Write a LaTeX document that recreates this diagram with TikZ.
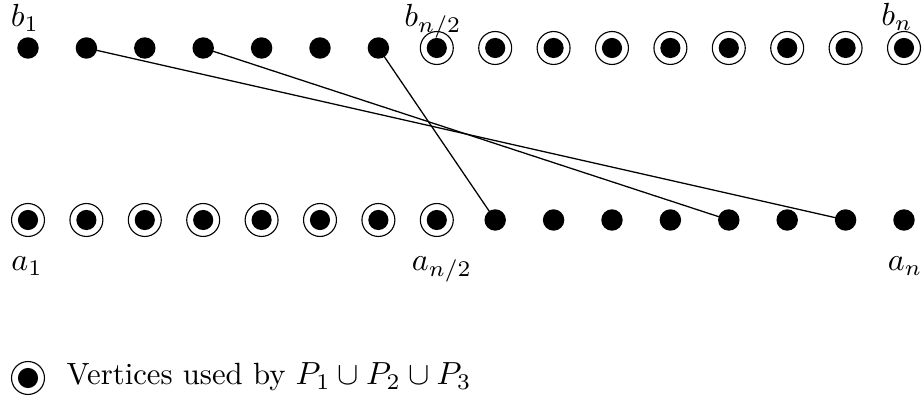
\documentclass[tikz,border=0pt]{standalone}
\usepackage{amssymb}
\begin{document}
\begin{tikzpicture}[x=0.3125pt,y=-0.3125pt,
  dotv/.style={circle,fill=black,inner sep=0pt,minimum size=6.7pt},
  usedv/.style={circle,draw=black,line width=0.35pt,inner sep=0pt,minimum size=10.3pt,
    path picture={\fill[black] (path picture bounding box.center) circle[radius=3.15pt];}},
  edge/.style={draw=black,line width=0.4pt},
  lab/.style={anchor=base,inner sep=0pt}]
\useasboundingbox (0,0) rectangle (922,400);
% top row b
\foreach \i in {1,...,7} {
  \node[dotv] (b\i) at ({28+58.4*(\i-1)},48) {};
}
\foreach \i in {8,...,16} {
  \node[usedv] (b\i) at ({28+58.4*(\i-1)},48) {};
}
% bottom row a
\foreach \i in {1,...,8} {
  \node[usedv] (a\i) at ({28+58.4*(\i-1)},220) {};
}
\foreach \i in {9,...,16} {
  \node[dotv] (a\i) at ({28+58.4*(\i-1)},220) {};
}
% labels
\node[lab] (lb1) at (25,27) {$b_1$};
\node[lab] (lbh) at (433,27) {$b_{n/2}$};
\node[lab] (lbn) at (897,26) {$b_n$};
\node[lab] (la1) at (27,271) {$a_1$};
\node[lab] (lah) at (442,271) {$a_{n/2}$};
\node[lab] (lan) at (905,271) {$a_n$};
% edges
\draw[edge] (b2.center) -- (a15.center);
\draw[edge] (b4.center) -- (a13.center);
\draw[edge] (b7.center) -- (a9.center);
% legend
\node[usedv] (leg) at (28,378) {};
\node[anchor=base west,inner sep=0pt] (legt) at (66,385) {\fontsize{9.6}{11.5}\selectfont Vertices used by $P_1\cup P_2\cup P_3$};
\end{tikzpicture}
\end{document}
